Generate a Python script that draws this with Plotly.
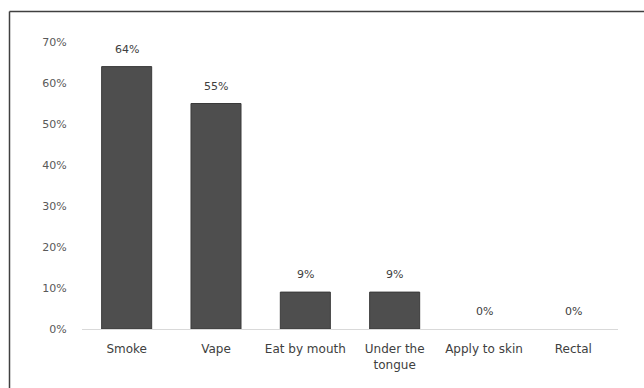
import plotly.graph_objects as go

categories = ["Smoke", "Vape", "Eat by mouth", "Under the<br>tongue", "Apply to skin", "Rectal"]
values = [0.64, 0.55, 0.09, 0.09, 0.0, 0.0]
labels = ["64%", "55%", "9%", "9%", "0%", "0%"]
ytick_vals = [0, 0.1, 0.2, 0.3, 0.4, 0.5, 0.6, 0.7]

W, H = 644, 388
L, R, T, B = 82, 26, 42, 59
pw, ph = W - L - R, H - T - B

def px(x):
    return (x - L) / pw

def py(y):
    return (H - B - y) / ph

FAM = "DejaVu Sans, sans-serif"
font = dict(family=FAM, size=11, color="#595959")

fig = go.Figure(go.Bar(
    x=categories, y=values,
    marker=dict(color="#4e4e4e",
                line=dict(color="#3a3a3a", width=[1 if v > 0 else 0 for v in values])),
))
for c, v, t in zip(categories, values, labels):
    fig.add_annotation(x=c, y=v, text=t, showarrow=False, yanchor="bottom",
                       yshift=9, font=dict(family=FAM, size=11, color="#404040"))
fig.update_layout(
    width=W, height=H, margin=dict(l=L, r=R, t=T, b=B),
    paper_bgcolor="white", plot_bgcolor="white",
    bargap=0.44, showlegend=False, font=font,
    xaxis=dict(showline=True, linecolor="#d9d9d9", linewidth=1, ticks="outside",
               ticklen=9, tickcolor="rgba(0,0,0,0)",
               showgrid=False, tickfont=dict(family=FAM, size=12, color="#404040"),
               fixedrange=True),
    yaxis=dict(range=[0, 0.7], tickvals=ytick_vals, tickformat=".0%", showgrid=False,
               zeroline=False, showline=False, ticks="outside", ticklen=12,
               tickcolor="rgba(0,0,0,0)", tickfont=dict(family=FAM, size=11, color="#595959")),
    shapes=[
        dict(type="line", xref="paper", yref="paper", x0=px(9.5), x1=px(W + 5),
             y0=py(11.5), y1=py(11.5), line=dict(color="#404040", width=1.5)),
        dict(type="line", xref="paper", yref="paper", x0=px(9.5), x1=px(9.5),
             y0=py(11.5), y1=py(H + 5), line=dict(color="#404040", width=1.5)),
    ],
)
fig.write_html("out.html")
